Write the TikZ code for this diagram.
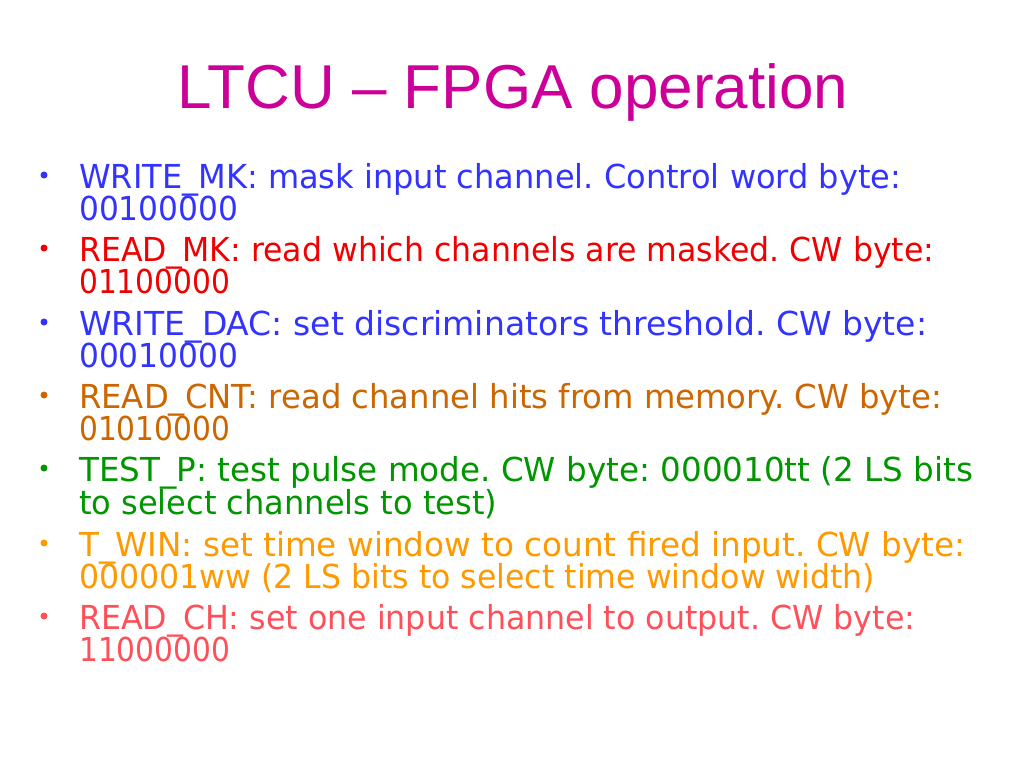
\documentclass[tikz,border=0pt]{standalone}
\usepackage{fontspec}
\usepackage{graphicx}
\setmainfont{Liberation Sans}
\newfontfamily\bodyfont{DejaVu Sans}
\definecolor{cblue}{RGB}{51,51,255}
\definecolor{cred}{RGB}{240,0,0}
\definecolor{cbrown}{RGB}{204,102,0}
\definecolor{cgreen}{RGB}{0,150,0}
\definecolor{corange}{RGB}{255,153,0}
\definecolor{cpink}{RGB}{255,80,90}
\definecolor{cmag}{RGB}{204,0,153}
\newcommand{\fitln}[2]{\resizebox{#1pt}{\height}{#2}}
\tikzset{
  ln/.style={anchor=base west, inner sep=0pt, font=\bodyfont\fontsize{33}{33}\selectfont\frenchspacing},
  bul/.style={circle, inner sep=0pt, minimum size=7pt, draw=none},
}
\begin{document}
\begin{tikzpicture}[x=1pt,y=-1pt]
\useasboundingbox (0,0) rectangle (1024,768);
\fill[white] (0,0) rectangle (1024,768);
\node[anchor=base, inner sep=0pt, text=cmag, font=\fontsize{62}{62}\selectfont] (title) at (513,108) {LTCU – FPGA operation};
% 1
\node[bul,fill=cblue] (b1) at (44,175) {};
\node[ln,text=cblue] (l1a) at (79,188) {\fitln{822}{WRITE\_MK: mask input channel. Control word byte:}};
\node[ln,text=cblue] (l1b) at (79,220) {\fitln{159}{00100000}};
% 2
\node[bul,fill=cred] (b2) at (44,248) {};
\node[ln,text=cred] (l2a) at (79,261) {\fitln{855}{READ\_MK: read which channels are masked. CW byte:}};
\node[ln,text=cred] (l2b) at (79,293) {\fitln{151}{01100000}};
% 3
\node[bul,fill=cblue] (b3) at (44,322) {};
\node[ln,text=cblue] (l3a) at (79,335) {\fitln{848}{WRITE\_DAC: set discriminators threshold. CW byte:}};
\node[ln,text=cblue] (l3b) at (79,367) {\fitln{159}{00010000}};
% 4
\node[bul,fill=cbrown] (b4) at (44,395) {};
\node[ln,text=cbrown] (l4a) at (79,408) {\fitln{863}{READ\_CNT: read channel hits from memory. CW byte:}};
\node[ln,text=cbrown] (l4b) at (79,440) {\fitln{151}{01010000}};
% 5
\node[bul,fill=cgreen] (b5) at (44,468) {};
\node[ln,text=cgreen] (l5a) at (79,481) {\fitln{894}{TEST\_P: test pulse mode. CW byte: 000010tt (2 LS bits}};
\node[ln,text=cgreen] (l5b) at (79,514) {\fitln{418}{to select channels to test)}};
% 6
\node[bul,fill=corange] (b6) at (44,543) {};
\node[ln,text=corange] (l6a) at (79,556) {\fitln{886}{T\_WIN: set time window to count fired input. CW byte:}};
\node[ln,text=corange] (l6b) at (79,588) {\fitln{796}{000001ww (2 LS bits to select time window width)}};
% 7
\node[bul,fill=cpink] (b7) at (44,616) {};
\node[ln,text=cpink] (l7a) at (79,629) {\fitln{836}{READ\_CH: set one input channel to output. CW byte:}};
\node[ln,text=cpink] (l7b) at (79,661) {\fitln{151}{11000000}};
\end{tikzpicture}
\end{document}
